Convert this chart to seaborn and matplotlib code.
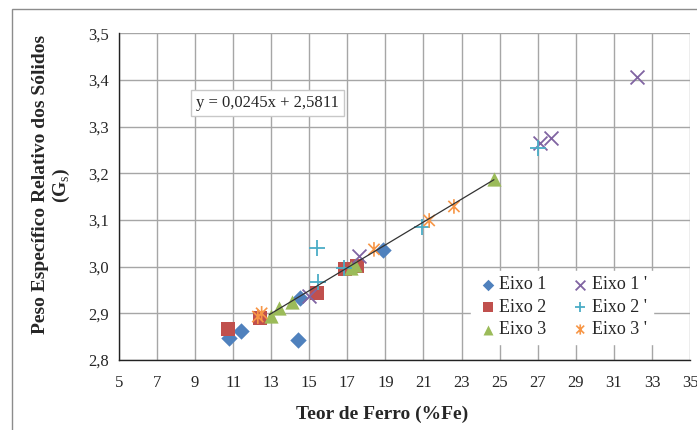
import matplotlib
matplotlib.use("Agg")
import matplotlib.pyplot as plt
from matplotlib.path import Path
from matplotlib.patches import Rectangle
from matplotlib.ticker import FuncFormatter, MultipleLocator, FixedLocator
import numpy as np
import seaborn as sns

# data (x = %Fe, y = Gs)
eixo1_x = [10.8, 11.4, 14.4, 14.5, 18.9]
eixo1_y = [2.847, 2.863, 2.842, 2.932, 3.035]

eixo2_x = [10.75, 12.4, 15.4, 16.9, 17.5]
eixo2_y = [2.866, 2.891, 2.943, 2.994, 3.001]

eixo3_x = [13.0, 13.4, 14.1, 17.2, 17.4, 24.7]
eixo3_y = [2.895, 2.912, 2.925, 2.997, 3.003, 3.188]

eixo1p_x = [15.0, 17.6, 27.1, 27.7, 32.2]
eixo1p_y = [2.937, 3.022, 3.264, 3.276, 3.407]

eixo2p_x = [15.4, 15.45, 16.8, 20.9, 27.0]
eixo2p_y = [3.041, 2.968, 2.998, 3.085, 3.254]

eixo3p_x = [12.3, 12.5, 18.4, 21.3, 22.6]
eixo3p_y = [2.893, 2.900, 3.037, 3.099, 3.129]

x_ticks = [5, 7, 9, 11, 13, 15, 17, 19, 21, 23, 25, 27, 29, 31, 33, 35]

# trend line y = 0,0245x + 2,5811
slope = 0.0245
intercept = 2.5811
trend_x = np.array([12.9, 24.7])

sns.set_style("white")
plt.rcParams["font.family"] = ["Liberation Serif", "DejaVu Serif"]
plt.rcParams["mathtext.fontset"] = "custom"
plt.rcParams["mathtext.rm"] = "Liberation Serif"

# Excel-like asterisk: X with a vertical bar
ast = Path([(-1, -1), (1, 1), (-1, 1), (1, -1), (0, -1.3), (0, 1.3)],
           [Path.MOVETO, Path.LINETO, Path.MOVETO, Path.LINETO, Path.MOVETO, Path.LINETO])

fig = plt.figure(figsize=(6.97, 4.30), dpi=100)
ax = fig.add_axes([0.1705, 0.1628, 0.8195, 0.7598])

series = [
    ("Eixo 1", eixo1_x, eixo1_y, "D", "#4F81BD", 70),
    ("Eixo 2", eixo2_x, eixo2_y, "s", "#C0504D", 105),
    ("Eixo 3", eixo3_x, eixo3_y, "^", "#9BBB59", 105),
    ("Eixo 1 '", eixo1p_x, eixo1p_y, "x", "#8064A2", 100),
    ("Eixo 2 '", eixo2p_x, eixo2p_y, "+", "#4BACC6", 120),
    ("Eixo 3 '", eixo3p_x, eixo3p_y, ast, "#F79646", 110),
]

for name, xs, ys, mk, col, size in series:
    if mk in ("D", "s", "^"):
        sns.scatterplot(x=xs, y=ys, marker=mk, color=col, s=size,
                        linewidth=0, label=name, ax=ax, zorder=3)
    elif mk in ("x", "+"):
        sns.scatterplot(x=xs, y=ys, marker=mk, color=col, s=size,
                        linewidth=1.3, label=name, ax=ax, zorder=3)
    else:
        sns.scatterplot(x=xs, y=ys, marker=mk, edgecolor=col,
                        facecolor="none", s=size, linewidth=1.2, label=name,
                        ax=ax, zorder=3)

sns.lineplot(x=trend_x, y=slope * trend_x + intercept, color="#333333",
             linewidth=0.9, ax=ax, zorder=4)

ax.set_xlim(5, 35)
ax.set_ylim(2.8, 3.5)
ax.xaxis.set_major_locator(FixedLocator(x_ticks))
ax.yaxis.set_major_locator(MultipleLocator(0.1))
ax.yaxis.set_minor_locator(MultipleLocator(0.05))
ax.yaxis.set_major_formatter(FuncFormatter(lambda v, p: f"{v:.1f}".replace(".", ",")))

ax.grid(True, which="major", color="#a6a6a6", linewidth=1.0)
ax.set_axisbelow(True)
for side in ["top", "right"]:
    ax.spines[side].set_visible(False)
for side in ["left", "bottom"]:
    ax.spines[side].set_color("#222222")
    ax.spines[side].set_linewidth(1.0)

ax.tick_params(axis="both", which="major", direction="out", length=4,
               width=1, color="#222222", labelsize=12)
ax.tick_params(axis="y", which="minor", direction="out", length=3,
               width=0.8, color="#222222")
ax.tick_params(axis="x", pad=7)
ax.tick_params(axis="y", pad=3)

ax.set_xlabel("Teor de Ferro (%Fe)", fontsize=14, fontweight="bold")
ax.xaxis.set_label_coords(0.461, -0.14)
ax.set_ylabel("Peso Específico Relativo dos Sólidos\n(G$_{\\mathrm{s}}$)",
              fontsize=14, fontweight="bold", va="center", linespacing=1.15)
ax.yaxis.set_label_coords(-0.117, 0.536)

ax.text(0.1355, 0.786, "y = 0,0245x + 2,5811", transform=ax.transAxes,
        fontsize=12, va="center", ha="left",
        bbox=dict(boxstyle="square,pad=0.3", facecolor="white", edgecolor="#c8c8c8"))

leg = ax.legend(ncol=2, loc="upper left", bbox_to_anchor=(0.6, 0.30),
                frameon=True, fontsize=13, handletextpad=0.0,
                columnspacing=1.2, labelspacing=0.3, handlelength=1.3,
                borderpad=0.3, markerscale=0.7, fancybox=False)
leg.get_frame().set_edgecolor("white")
leg.get_frame().set_facecolor("white")
leg.get_frame().set_alpha(1)

fig.patches.append(Rectangle((12 / 697, -0.2), 1.2, 1.2 - 9 / 430,
                             transform=fig.transFigure, fill=False,
                             edgecolor="#8c8c8c", linewidth=1.0))

fig.savefig("out.png", dpi=100)
